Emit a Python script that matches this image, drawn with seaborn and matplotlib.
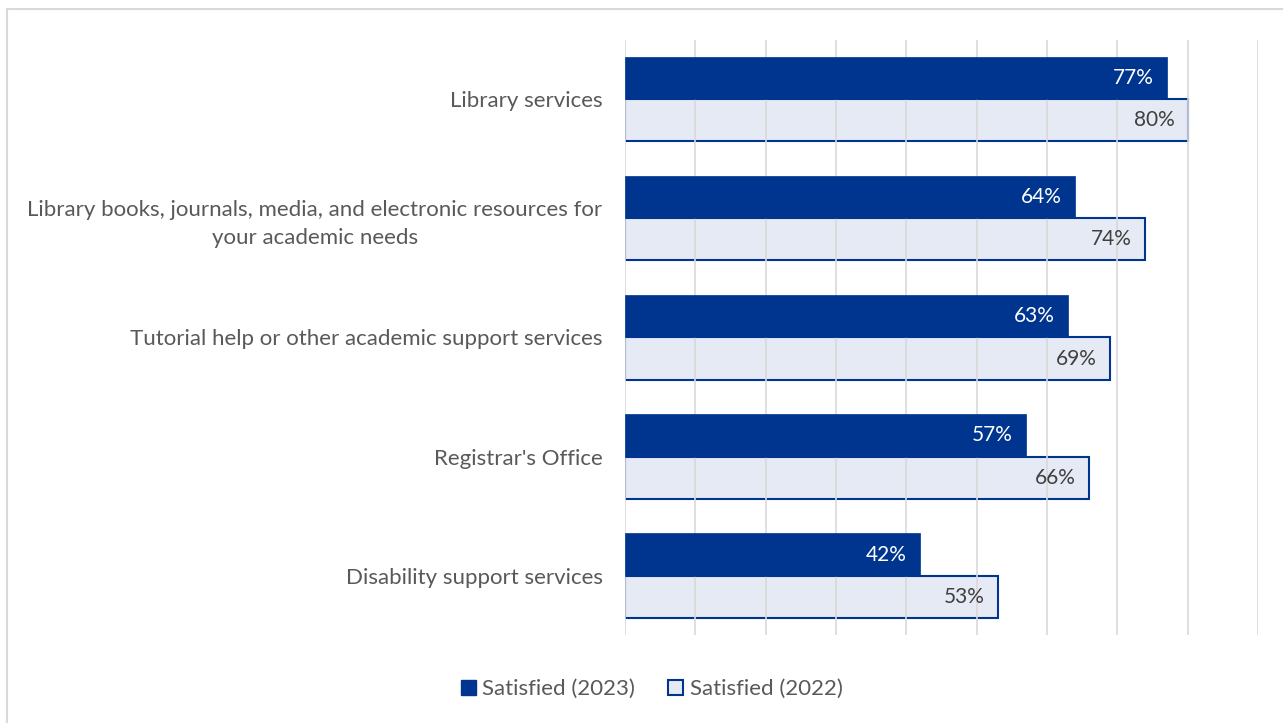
import matplotlib
matplotlib.use("Agg")
import matplotlib.pyplot as plt
import seaborn as sns
import pandas as pd
from matplotlib.patches import Rectangle, Patch

categories = [
    "Library services",
    "Library books, journals, media, and electronic resources for\nyour academic needs",
    "Tutorial help or other academic support services",
    "Registrar's Office",
    "Disability support services",
]
series_names = ["Satisfied (2023)", "Satisfied (2022)"]
values_2023 = [77, 64, 63, 57, 42]
values_2022 = [80, 74, 69, 66, 53]

df = pd.DataFrame({
    "category": categories * 2,
    "value": values_2023 + values_2022,
    "series": [series_names[0]] * 5 + [series_names[1]] * 5,
})

sns.set_theme(style="white")
plt.rcParams["font.family"] = ["Lato", "DejaVu Sans"]

DARK = "#00358F"
LIGHT = "#E6EAF4"
TXT = "#595959"

fig = plt.figure(figsize=(12.83, 7.23), dpi=100)
ax = fig.add_axes([0.487, 0.1217, 0.9805 - 0.487, 0.9447 - 0.1217])

sns.barplot(data=df, y="category", x="value", hue="series", orient="h",
            palette=[DARK, LIGHT], width=0.706, ax=ax, legend=False,
            saturation=1, order=categories, hue_order=series_names)

ax.set_xlim(0, 90)
ax.set_ylim(len(categories) - 0.5, -0.5)
ax.set_xticks(range(0, 91, 10))
ax.set_xticklabels([])
ax.tick_params(axis="x", length=0)
ax.tick_params(axis="y", length=0, pad=16, labelsize=16, labelcolor=TXT)
for lbl in ax.get_yticklabels():
    lbl.set_horizontalalignment("right")
    lbl.set_multialignment("center")
    lbl.set_linespacing(1.45)
ax.set_xlabel("")
ax.set_ylabel("")
for s in ax.spines.values():
    s.set_visible(False)

ax.set_axisbelow(False)
ax.xaxis.grid(True, color="#D9D9D9", linewidth=1.2, zorder=2)
ax.yaxis.grid(False)

containers = ax.containers
for bar in containers[0]:
    bar.set_zorder(3)
    bar.set_edgecolor(DARK)
    bar.set_linewidth(0.5)
for bar in containers[1]:
    bar.set_zorder(1)
    bar.set_edgecolor(DARK)
    bar.set_linewidth(1.5)

for cont, vals, col in [(containers[0], values_2023, "white"),
                        (containers[1], values_2022, "#404040")]:
    for bar, v in zip(cont, vals):
        ax.annotate(f"{v}%", xy=(bar.get_x() + bar.get_width(), bar.get_y() + bar.get_height() / 2),
                    xytext=(-9.5, 0), textcoords="offset points", ha="right", va="center",
                    color=col, fontsize=15, zorder=5)

handles = [Patch(facecolor=DARK, edgecolor=DARK, linewidth=1),
           Patch(facecolor=LIGHT, edgecolor=DARK, linewidth=1.5)]
fig.legend(handles, series_names, loc="center", bbox_to_anchor=(0.508, 0.047),
           ncol=2, frameon=False, fontsize=16, labelcolor=TXT,
           handlelength=0.65, handleheight=0.65, handletextpad=0.3, columnspacing=1.5)

fig.patches.append(Rectangle((7 / 1283, -0.1), 1.2, (723 - 9) / 723 + 0.1,
                             transform=fig.transFigure, fill=False,
                             edgecolor="#D9D9D9", linewidth=1.5))

fig.savefig("out.png", dpi=100)
